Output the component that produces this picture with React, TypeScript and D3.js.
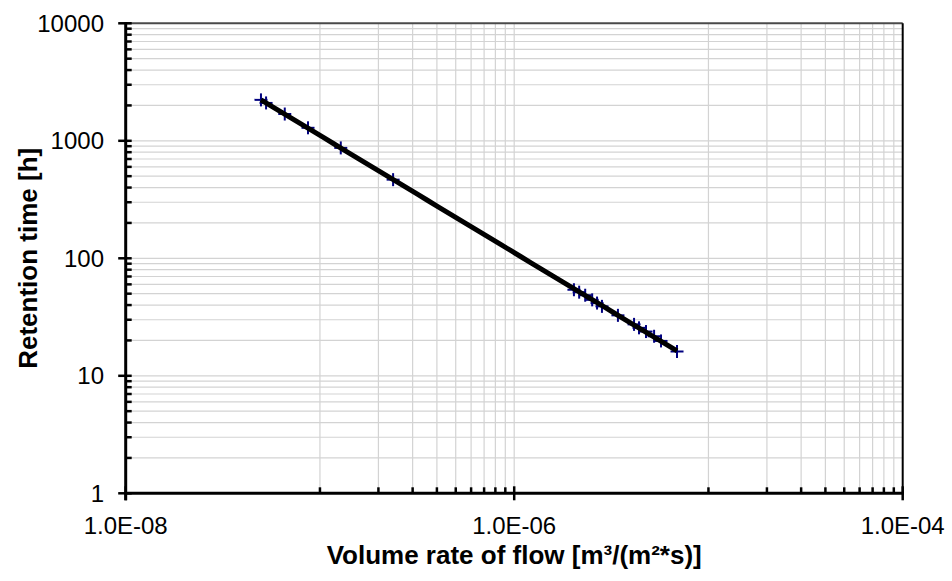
import React from 'react';
import * as d3 from 'd3';

// Measured flow rates [m³/(m²*s)] and the matching retention times [h]
const flowRates = [
  4.97e-8, 5.28e-8, 6.59e-8, 8.68e-8, 1.28e-7, 2.38e-7,
  2.03e-6, 2.16e-6, 2.32e-6, 2.52e-6, 2.67e-6, 2.83e-6,
  3.42e-6, 4.14e-6, 4.39e-6, 4.77e-6, 5.25e-6, 5.7e-6, 6.89e-6,
];
const retentionHours = [
  2230, 2100, 1690, 1290, 870, 467,
  54, 51.5, 48.5, 44.3, 41.6, 39,
  32.7, 27.4, 25.6, 23.8, 21.7, 19.8, 16.1,
];

const xMajorValues = [1e-8, 1e-6, 1e-4];
const xTickLabels = ['1.0E-08', '1.0E-06', '1.0E-04'];
const yMajorValues = [1, 10, 100, 1000, 10000];
const yTickLabels = ['1', '10', '100', '1000', '10000'];

const xTitle = 'Volume rate of flow [m³/(m²*s)]';
const yTitle = 'Retention time [h]';

const W = 952;
const H = 581;
const left = 125.7;
const right = 902.7;
const top = 23.3;
const bottom = 493.3;

const FONT = '"Liberation Sans", Arial, Helvetica, sans-serif';
const GRID = '#d3d3d3';

export default function App() {
  const x = d3.scaleLog().domain([1e-8, 1e-4]).range([left, right]);
  const y = d3.scaleLog().domain([1, 10000]).range([bottom, top]);

  // minor x steps: ten times each labelled major, in units of that value
  const xMinor: number[] = [];
  for (let i = 0; i < xMajorValues.length - 1; i++) {
    for (let k = 1; k <= 9; k++) xMinor.push(xMajorValues[i] * 10 * k);
  }
  // minor y steps: every integer multiple inside each decade
  const yMinor: number[] = [];
  for (let i = 0; i < yMajorValues.length - 1; i++) {
    for (let k = 2; k <= 9; k++) yMinor.push(yMajorValues[i] * k);
  }

  // power-law trend line fitted in log space
  const lx = flowRates.map(Math.log10);
  const ly = retentionHours.map(Math.log10);
  const mx = d3.mean(lx) as number;
  const my = d3.mean(ly) as number;
  let sxy = 0;
  let sxx = 0;
  lx.forEach((v, i) => {
    sxy += (v - mx) * (ly[i] - my);
    sxx += (v - mx) * (v - mx);
  });
  const slope = sxy / sxx;
  const icpt = my - slope * mx;
  const [xmin, xmax] = d3.extent(flowRates) as [number, number];
  const fitPts: [number, number][] = d3
    .range(0, 41)
    .map((i) => {
      const lv = Math.log10(xmin) + (i / 40) * (Math.log10(xmax) - Math.log10(xmin));
      return [Math.pow(10, lv), Math.pow(10, icpt + slope * lv)];
    });
  const fitLine = d3
    .line<[number, number]>()
    .x((d) => x(d[0]))
    .y((d) => y(d[1]))(fitPts) as string;

  const mk = 6.5;

  return (
    <svg
      width={W}
      height={H}
      style={{ position: 'absolute', left: 0, top: 0, background: '#fff' }}
      fontFamily={FONT}
    >
      <rect x={0} y={0} width={W} height={H} fill="#fff" />

      {/* grid */}
      <g stroke={GRID} strokeWidth={1.2} fill="none">
        {yMinor.concat(yMajorValues.slice(1, -1)).map((v, i) => (
          <line key={'gy' + i} x1={left} x2={right} y1={y(v)} y2={y(v)} />
        ))}
        {xMinor.concat([1e-6]).map((v, i) => (
          <line key={'gx' + i} x1={x(v)} x2={x(v)} y1={top} y2={bottom} />
        ))}
      </g>

      {/* plot frame: top and right */}
      <line x1={left} x2={right} y1={top} y2={top} stroke="#4a4a4a" strokeWidth={2} />
      <line x1={right} x2={right} y1={top} y2={bottom} stroke="#000" strokeWidth={2} />

      {/* markers */}
      <g stroke="#000080" strokeWidth={2}>
        {flowRates.map((v, i) => {
          const cx = x(v);
          const cy = y(retentionHours[i]);
          return (
            <g key={'m' + i}>
              <line x1={cx - mk} x2={cx + mk} y1={cy} y2={cy} />
              <line x1={cx} x2={cx} y1={cy - mk} y2={cy + mk} />
            </g>
          );
        })}
      </g>

      {/* trend line */}
      <path d={fitLine} fill="none" stroke="#000" strokeWidth={5} strokeLinecap="butt" />

      {/* y axis */}
      <line x1={left} x2={left} y1={top - 1} y2={bottom + 7} stroke="#000" strokeWidth={3} />
      <g stroke="#000" strokeWidth={2.5}>
        {yMajorValues.map((v, i) => (
          <line key={'ytM' + i} x1={left - 7.5} x2={left + 6} y1={y(v)} y2={y(v)} />
        ))}
        {yMinor.map((v, i) => (
          <line key={'ytm' + i} x1={left} x2={left + 6} y1={y(v)} y2={y(v)} />
        ))}
      </g>
      <g fontSize={24} textAnchor="end" fill="#000">
        {yMajorValues.map((v, i) => (
          <text key={'yl' + i} x={104} y={y(v)} dy="0.36em">
            {yTickLabels[i]}
          </text>
        ))}
      </g>

      {/* x axis */}
      <line x1={left - 1.5} x2={right + 1} y1={bottom} y2={bottom} stroke="#000" strokeWidth={3} />
      <g stroke="#000" strokeWidth={2.5}>
        {xMajorValues.map((v, i) => (
          <line key={'xtM' + i} x1={x(v)} x2={x(v)} y1={bottom - 7} y2={bottom + 7} />
        ))}
        {xMinor.map((v, i) => (
          <line key={'xtm' + i} x1={x(v)} x2={x(v)} y1={bottom - 6} y2={bottom} />
        ))}
      </g>
      <g fontSize={24} textAnchor="middle" fill="#000">
        {xMajorValues.map((v, i) => (
          <text key={'xl' + i} x={x(v)} y={533.5}>
            {xTickLabels[i]}
          </text>
        ))}
      </g>

      {/* titles */}
      <text
        x={(left + right) / 2}
        y={564}
        textAnchor="middle"
        fontSize={26}
        fontWeight="bold"
        fill="#000"
      >
        {xTitle}
      </text>
      <text
        transform={`translate(37,${(top + bottom) / 2}) rotate(-90)`}
        textAnchor="middle"
        fontSize={26}
        fontWeight="bold"
        fill="#000"
      >
        {yTitle}
      </text>
    </svg>
  );
}
